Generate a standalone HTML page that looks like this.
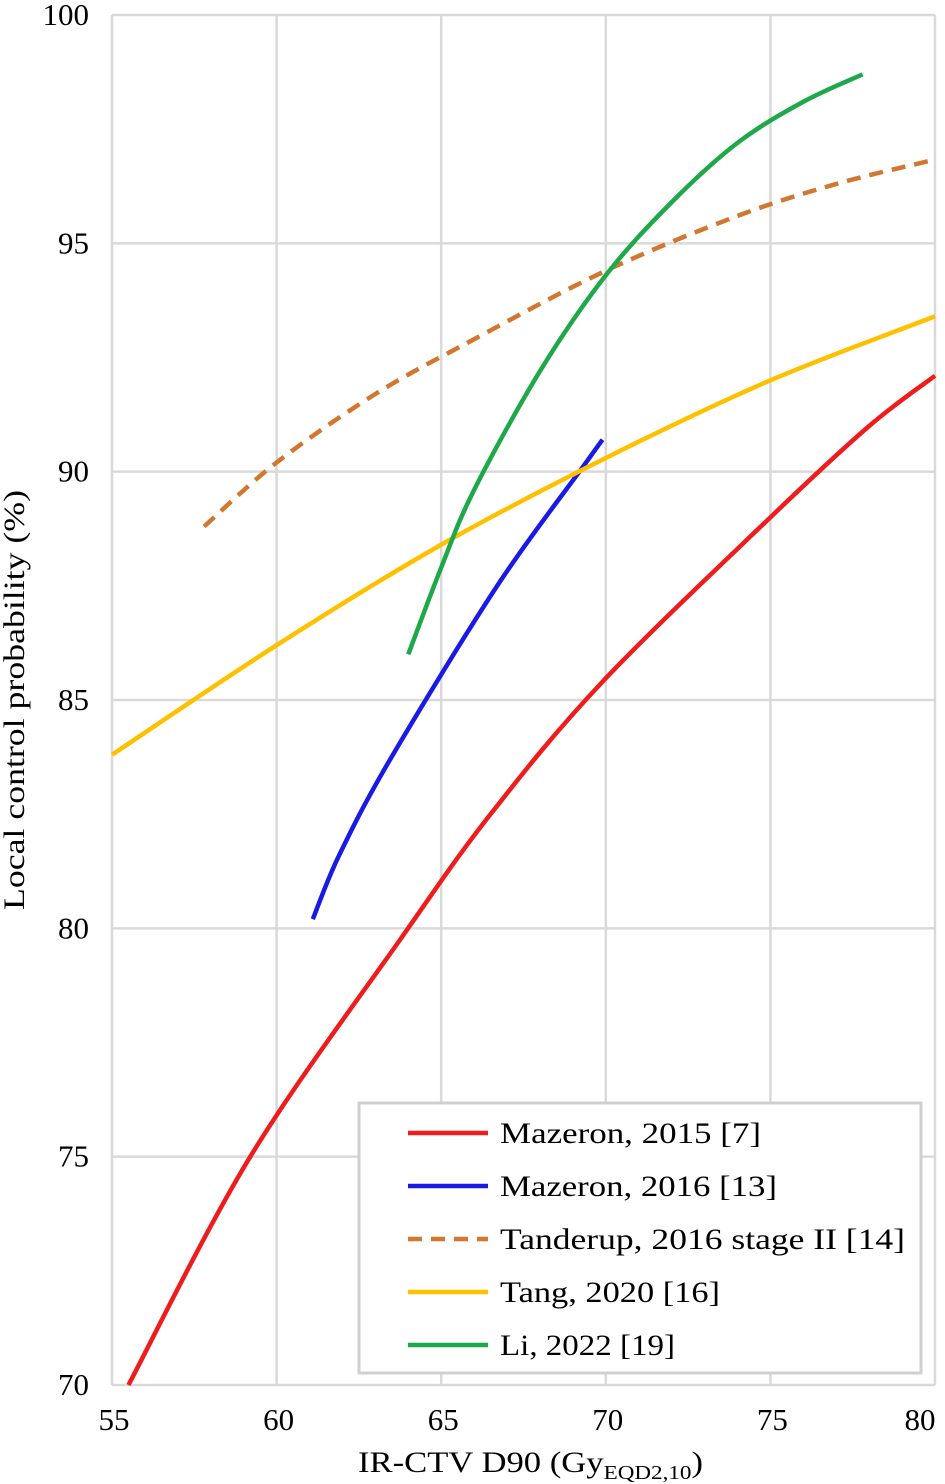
<!DOCTYPE html>
<html><head><meta charset="utf-8">
<style>
html,body{margin:0;padding:0;background:#fff;}
svg{display:block;font-family:"Liberation Serif",serif;}
</style></head>
<body>
<svg id="chart" width="945" height="1484" viewBox="0 0 945 1484">
<g id="grid"></g>
<g id="axes"></g>
<g id="series"></g>
<text x="358" y="1472" font-size="30" textLength="345" lengthAdjust="spacingAndGlyphs">IR-CTV D90 (Gy<tspan font-size="20" dy="7">EQD2,10</tspan><tspan dy="-7">)</tspan></text>
<text transform="translate(24,910) rotate(-90)" font-size="30" textLength="420" lengthAdjust="spacingAndGlyphs">Local control probability (%)</text>
<g id="legend">
<rect x="359" y="1103" width="562" height="270" fill="#fff" stroke="#d0d0d0" stroke-width="3"/>
</g>
</svg>
<script>
const xTicks=[55,60,65,70,75,80];
const yTicks=[70,75,80,85,90,95,100];
const seriesNames=["Mazeron, 2015 [7]","Mazeron, 2016 [13]","Tanderup, 2016 stage II [14]","Tang, 2020 [16]","Li, 2022 [19]"];
const legendWidths=[261,277,405,220,175];
const mazeron2015X=[55.5,59.2,63.75,66.5,69.9,75,78,80];
const mazeron2015Y=[70,75,79.75,82.5,85.4,89,91,92.1];
const mazeron2016X=[61.1,61.9,63.45,66.7,69.3,69.9];
const mazeron2016Y=[80.2,81.6,83.7,87.5,90.1,90.7];
const tanderupX=[57.8,60,63,66,70,74,77,79.8];
const tanderupY=[88.8,90.2,91.7,92.9,94.4,95.6,96.3,96.8];
const tangX=[55,60,65,70,75,80];
const tangY=[83.8,86.2,88.4,90.3,92,93.4];
const liX=[64,65,66,68,70,72,74,76,77.8];
const liY=[86,87.9,89.6,92.2,94.3,95.9,97.2,98.1,98.7];

const NS="http://www.w3.org/2000/svg";
const L=112,R=935,T=15,B=1385;
function sx(v){return L+(v-55)/(80-55)*(R-L);}
function sy(v){return B-(v-70)/(100-70)*(B-T);}
function mk(tag,attrs,parent){const e=document.createElementNS(NS,tag);for(const k in attrs)e.setAttribute(k,attrs[k]);parent.appendChild(e);return e;}
const grid=document.getElementById('grid'),axes=document.getElementById('axes'),ser=document.getElementById('series'),leg=document.getElementById('legend');
xTicks.forEach((t,i)=>{
 const l=mk('line',{x1:sx(t),x2:sx(t),y1:T,y2:B,stroke:'#d9d9d9','stroke-width':2.5},grid);
 
 
 const cx=Math.min(sx(t)+2,920);
 const tx=mk('text',{x:cx,y:1430,'font-size':31,'text-anchor':'middle'},axes);
 tx.textContent=t;
 
 
});
yTicks.forEach(t=>{
 const l=mk('line',{x1:L,x2:R,y1:sy(t),y2:sy(t),stroke:'#d9d9d9','stroke-width':2.5},grid);
 
 
 const tx=mk('text',{x:89,y:sy(t)+10,'font-size':31,'text-anchor':'end'},axes);
 tx.textContent=t;
 
 
});
const colors=['#ee1c1c','#1a1ae6','#d2772f','#ffc000','#1fa84a'];
const dashes=['','','14,9','',''];
const data=[[mazeron2015X,mazeron2015Y],[mazeron2016X,mazeron2016Y],[tanderupX,tanderupY],[tangX,tangY],[liX,liY]];
const names=['line-mazeron-2015','line-mazeron-2016','line-tanderup-2016','line-tang-2020','line-li-2022'];
data.forEach((d,i)=>{
 const pts=d[0].map((x,j)=>[sx(x),sy(d[1][j])]);
 let p='M'+pts[0][0]+','+pts[0][1];
 for(let j=0;j<pts.length-1;j++){
  const p0=pts[j-1]||pts[j],p1=pts[j],p2=pts[j+1],p3=pts[j+2]||p2;
  const c1=[p1[0]+(p2[0]-p0[0])/6,p1[1]+(p2[1]-p0[1])/6],c2=[p2[0]-(p3[0]-p1[0])/6,p2[1]-(p3[1]-p1[1])/6];
  p+=' C'+c1+' '+c2+' '+p2;
 }
 const e=mk('path',{d:p,fill:'none',stroke:colors[i],'stroke-width':4.5},ser);
 if(dashes[i])e.setAttribute('stroke-dasharray',dashes[i]);
 
 
 const y=1133+i*53;
 const ll=mk('line',{x1:408,x2:488,y1:y,y2:y,stroke:colors[i],'stroke-width':4.5},leg);
 if(dashes[i])ll.setAttribute('stroke-dasharray',dashes[i]);
 
 
 const t=mk('text',{x:500,y:y+10,'font-size':30,textLength:legendWidths[i],lengthAdjust:'spacingAndGlyphs'},leg);
 t.textContent=seriesNames[i];
 
 
});
</script>
</body></html>
